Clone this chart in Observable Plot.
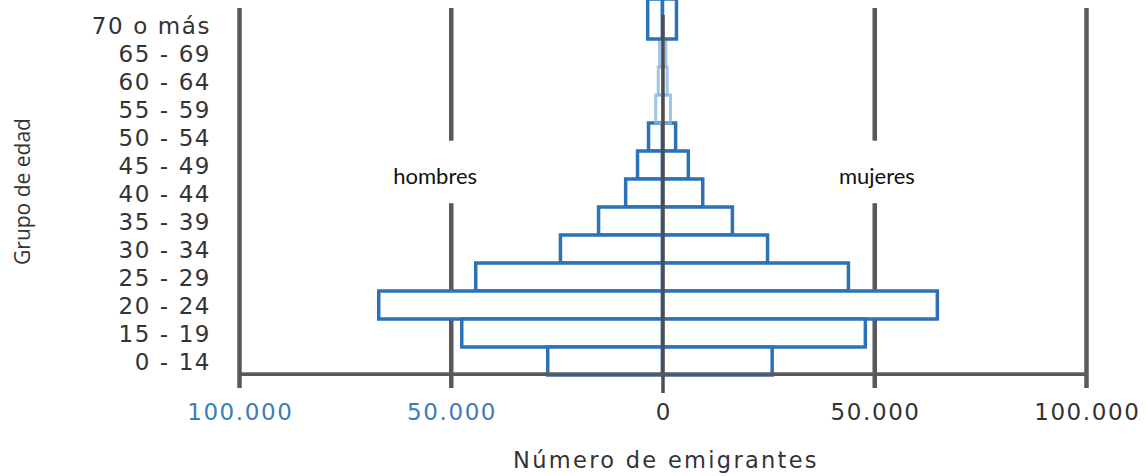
<!DOCTYPE html>
<html><head><meta charset="utf-8">
<script src="https://cdn.jsdelivr.net/npm/d3@7"></script>
<script src="https://cdn.jsdelivr.net/npm/@observablehq/plot@0.6"></script>
<style>
body{margin:0;background:#fff}
g[aria-label="y-axis tick label"] text,
g[aria-label="x-axis tick label"] text{letter-spacing:1.6px}
</style>
</head><body><div id="chart"></div>
<script>
const ageGroups = ["70 o más","65 - 69","60 - 64","55 - 59","50 - 54","45 - 49","40 - 44","35 - 39","30 - 34","25 - 29","20 - 24","15 - 19","0 - 14"];
const hombres = [3500, 700, 1000, 1600, 3300, 5900, 8700, 15100, 24100, 44100, 67000, 47400, 27100];
const mujeres = [3300, 800, 1100, 1900, 3100, 6100, 9500, 16500, 24800, 43900, 64900, 47900, 25900];
const xTicks = [-100000, -50000, 0, 50000, 100000];
const sexLabels = ["hombres", "mujeres"];
const fadedGroups = ["65 - 69","60 - 64","55 - 59"];
const xTitle = "Número de emigrantes";
const yTitle = "Grupo de edad";

const rows = ageGroups.flatMap((g, i) => [
  {group: g, sex: "hombres", value: -hombres[i]},
  {group: g, sex: "mujeres", value: mujeres[i]}
]);
const mainRows = rows.filter(d => !fadedGroups.includes(d.group) && d.group !== "70 o más");
const fadedRows = rows.filter(d => fadedGroups.includes(d.group));
const topRows = rows.filter(d => d.group === "70 o más");

const fmt = d3.formatLocale({decimal: ",", thousands: ".", grouping: [3], currency: ["", ""]}).format(",");
const tickFmt = d => fmt(Math.abs(d));
const BLUE = "#2c72b6";
const GRID = "#595959";
const WIDE = "'DejaVu Sans', sans-serif";

const chart = Plot.plot({
  width: 1146,
  height: 476,
  marginTop: 8,
  marginBottom: 98,
  marginLeft: 239,
  marginRight: 60,
  style: {fontFamily: "'Open Sans', sans-serif", background: "#fff", overflow: "visible"},
  x: {domain: [-100000, 100000]},
  y: {domain: ageGroups, padding: 0},
  marks: [
    Plot.ruleX(xTicks.filter(d => d !== 0), {stroke: GRID, strokeWidth: 4.5, insetBottom: -10}),
    Plot.barX(sexLabels, {
      x1: d => d === "hombres" ? -58000 : 46000,
      x2: d => d === "hombres" ? -46000 : 58000,
      y: () => "45 - 49", fill: "white", insetTop: -10.3, insetBottom: -24.2
    }),
    Plot.barX(mainRows, {x: "value", y: "group", fill: "white", stroke: BLUE, strokeWidth: 3.5}),
    Plot.barX(fadedRows, {x: "value", y: "group", fill: "none", stroke: "#8ab6e0", strokeWidth: 3, strokeOpacity: 0.8}),
    Plot.barX(topRows, {x: "value", y: "group", fill: "white", stroke: BLUE, strokeWidth: 3.5, insetTop: -12}),
    Plot.ruleX([0], {stroke: "#4d4d4d", strokeWidth: 3.5, insetTop: 7, insetBottom: -15}),
    Plot.barX([{g: "0 - 14"}], {x1: () => -100000, x2: () => 100000, y: "g", fill: GRID, insetTop: 25.3, insetBottom: -1}),
    Plot.axisY({tickSize: 0, tickPadding: 28.4, fontSize: 23, fontFamily: WIDE, fill: "#333", dy: 1, label: null}),
    Plot.axisX(xTicks.filter(d => d < 0), {tickSize: 0, tickPadding: 25, fontSize: 23, fontFamily: WIDE, fill: "#3a7dbd", tickFormat: tickFmt, dx: 0.8, label: null}),
    Plot.axisX(xTicks.filter(d => d >= 0), {tickSize: 0, tickPadding: 25, fontSize: 23, fontFamily: WIDE, fill: "#333", tickFormat: tickFmt, dx: 0.8, label: null}),
    Plot.text(sexLabels, {
      x: d => d === "hombres" ? -53800 : 50500,
      y: () => "45 - 49", text: d => d, dy: 11.5,
      fontFamily: "Lato, sans-serif", fontSize: 22, fill: "#111"
    }),
    Plot.text([yTitle], {frameAnchor: "left", textAnchor: "middle", dx: -216, dy: -2, rotate: -90, text: d => d, fontSize: 21, fill: "#333"}),
    Plot.text([xTitle], {frameAnchor: "bottom", dy: 89, dx: 3, text: d => d, fontSize: 22.5, fontFamily: WIDE, fill: "#333"})
  ]
});
d3.select(chart).selectAll("text")
  .filter(function() { return this.textContent === xTitle; })
  .style("letter-spacing", "2.3px");
document.getElementById("chart").appendChild(chart);
</script>
</body></html>
